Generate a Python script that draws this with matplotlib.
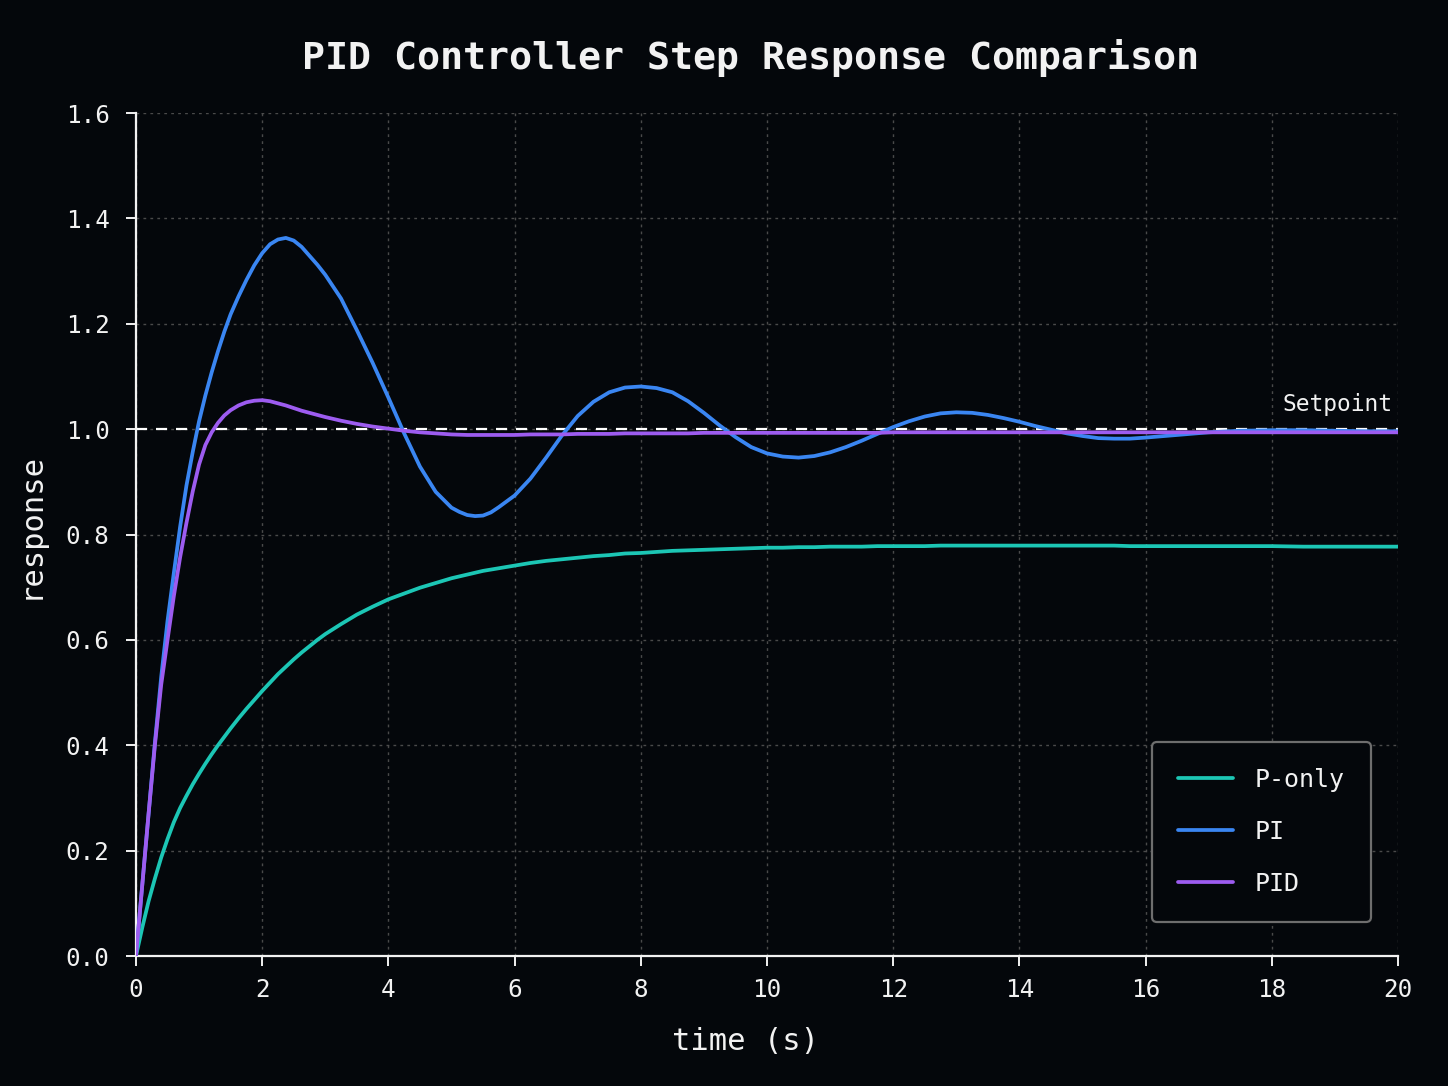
import matplotlib
matplotlib.use("Agg")
import matplotlib.pyplot as plt

# ---- data ----
time_s = [0.0, 0.1, 0.2, 0.3, 0.4, 0.5, 0.6, 0.7, 0.8, 0.9, 1.0, 1.1, 1.2, 1.3, 1.4, 1.5,
          1.625, 1.75, 1.875, 2.0, 2.125, 2.25, 2.375, 2.5, 2.625, 2.75, 2.875, 3.0,
          3.25, 3.5, 3.75, 4.0, 4.25, 4.5, 4.75, 5.0,
          5.125, 5.25, 5.375, 5.5, 5.625, 5.75, 6.0, 6.25, 6.5, 6.75, 7.0, 7.25, 7.5, 7.75, 8.0,
          8.25, 8.5, 8.75, 9.0, 9.25, 9.5, 9.75, 10.0, 10.25, 10.5, 10.75, 11.0,
          11.25, 11.5, 11.75, 12.0, 12.25, 12.5, 12.75, 13.0, 13.25, 13.5, 13.75, 14.0,
          14.25, 14.5, 14.75, 15.0, 15.25, 15.5, 15.75, 16.0,
          16.5, 17.0, 17.5, 18.0, 18.5, 19.0, 19.5, 20.0]

p_only = [0.0, 0.054, 0.104, 0.147, 0.187, 0.222, 0.254, 0.281, 0.304, 0.326, 0.346, 0.365, 0.383, 0.400, 0.416, 0.432,
          0.451, 0.469, 0.486, 0.503, 0.519, 0.535, 0.549, 0.563, 0.576, 0.588, 0.600, 0.611,
          0.630, 0.648, 0.663, 0.677, 0.688, 0.699, 0.708, 0.717,
          0.7205, 0.724, 0.7275, 0.731, 0.7335, 0.736, 0.741, 0.746, 0.750, 0.753, 0.756, 0.759, 0.761, 0.764, 0.765,
          0.767, 0.769, 0.770, 0.771, 0.772, 0.773, 0.774, 0.775, 0.775, 0.776, 0.776, 0.777,
          0.777, 0.777, 0.778, 0.778, 0.778, 0.778, 0.779, 0.779, 0.779, 0.779, 0.779, 0.779,
          0.779, 0.779, 0.779, 0.779, 0.779, 0.779, 0.778, 0.778,
          0.778, 0.778, 0.778, 0.778, 0.777, 0.777, 0.777, 0.777]

pi_ctrl = [0.0, 0.135, 0.270, 0.405, 0.530, 0.636, 0.727, 0.815, 0.893, 0.957, 1.015, 1.064, 1.108, 1.148, 1.185, 1.218,
           1.252, 1.283, 1.311, 1.334, 1.351, 1.360, 1.363, 1.358, 1.346, 1.329, 1.312, 1.293,
           1.248, 1.188, 1.126, 1.060, 0.992, 0.929, 0.881, 0.851,
           0.843, 0.837, 0.835, 0.836, 0.842, 0.852, 0.874, 0.906, 0.946, 0.988, 1.025, 1.052, 1.070, 1.079, 1.081,
           1.078, 1.070, 1.053, 1.031, 1.007, 0.985, 0.966, 0.954, 0.948, 0.946, 0.949, 0.956,
           0.966, 0.978, 0.991, 1.004, 1.015, 1.024, 1.030, 1.032, 1.031, 1.027, 1.021, 1.014,
           1.006, 0.999, 0.992, 0.987, 0.983, 0.982, 0.982, 0.984,
           0.989, 0.994, 0.997, 0.998, 0.998, 0.997, 0.996, 0.996]

pid_ctrl = [0.0, 0.135, 0.270, 0.400, 0.515, 0.600, 0.683, 0.757, 0.822, 0.882, 0.933, 0.970, 0.994, 1.012, 1.026, 1.036,
            1.045, 1.051, 1.054, 1.055, 1.053, 1.049, 1.045, 1.040, 1.035, 1.031, 1.027, 1.023,
            1.016, 1.010, 1.005, 1.001, 0.997, 0.994, 0.992, 0.990,
            0.9895, 0.989, 0.989, 0.989, 0.989, 0.989, 0.989, 0.990, 0.990, 0.990, 0.991, 0.991, 0.991, 0.992, 0.992,
            0.992, 0.992, 0.992, 0.993, 0.993, 0.993, 0.993, 0.993, 0.993, 0.993, 0.993, 0.993,
            0.993, 0.993, 0.993, 0.994, 0.994, 0.994, 0.994, 0.994, 0.994, 0.994, 0.994, 0.994,
            0.994, 0.994, 0.994, 0.994, 0.994, 0.994, 0.994, 0.994,
            0.994, 0.994, 0.994, 0.994, 0.994, 0.994, 0.994, 0.994]

setpoint = 1.0
series_labels = ["P-only", "PI", "PID"]
series_colors = ["#1cc6b5", "#3a86f2", "#9d5cf0"]

x_ticks = [0, 2, 4, 6, 8, 10, 12, 14, 16, 18, 20]
y_ticks = [0.0, 0.2, 0.4, 0.6, 0.8, 1.0, 1.2, 1.4, 1.6]

# ---- style ----
BG = "#04070b"
FG = "#f2f2f2"
plt.rcParams["font.family"] = ["DejaVu Sans Mono", "DejaVu Sans"]

fig = plt.figure(figsize=(14.48, 10.86), dpi=100, facecolor=BG)
ax = fig.add_axes([0.0939, 0.1197, 0.8716, 0.7762], facecolor=BG)

for vals, lab, col in zip([p_only, pi_ctrl, pid_ctrl], series_labels, series_colors):
    ax.plot(time_s, vals, color=col, lw=2.7, label=lab, solid_capstyle="round",
            solid_joinstyle="round", zorder=3)

ax.axhline(setpoint, color="#ffffff", lw=1.6, ls=(0, (5, 4)), zorder=2)
ax.text(19.92, setpoint + 0.025, "Setpoint", color=FG, fontsize=16.5, ha="right", va="bottom")

ax.set_xlim(0, 20)
ax.set_ylim(0, 1.6)
ax.set_xticks(x_ticks)
ax.set_yticks(y_ticks)
ax.set_yticklabels([f"{v:.1f}" for v in y_ticks])

ax.grid(True, color="#525252", ls=(0, (2, 3)), lw=1.0, alpha=0.9)
ax.set_axisbelow(True)

for side in ("top", "right"):
    ax.spines[side].set_visible(False)
for side in ("left", "bottom"):
    ax.spines[side].set_color(FG)
    ax.spines[side].set_linewidth(1.6)

ax.tick_params(colors=FG, labelsize=17.5, length=7, width=1.4)
ax.tick_params(axis="x", pad=9)
ax.tick_params(axis="y", pad=12)

ax.set_xlabel("time (s)", color=FG, fontsize=22)
ax.set_ylabel("response", color=FG, fontsize=22)
ax.xaxis.set_label_coords(0.4826, -0.084)
ax.yaxis.set_label_coords(-0.072, 0.511)
fig.text(0.518, 0.947, "PID Controller Step Response Comparison", color=FG,
         fontsize=27.5, fontweight="bold", ha="center", va="center")

leg = ax.legend(loc="lower right", bbox_to_anchor=(0.9785, 0.04), fontsize=18,
                frameon=True, facecolor=BG, edgecolor="#6e6e6e", framealpha=1.0,
                labelspacing=1.12, handlelength=2.2, handletextpad=0.85,
                borderpad=1.05, borderaxespad=0.0)
leg.get_frame().set_linewidth(1.6)
for t in leg.get_texts():
    t.set_color(FG)

fig.savefig("out.png", dpi=100, facecolor=BG)
